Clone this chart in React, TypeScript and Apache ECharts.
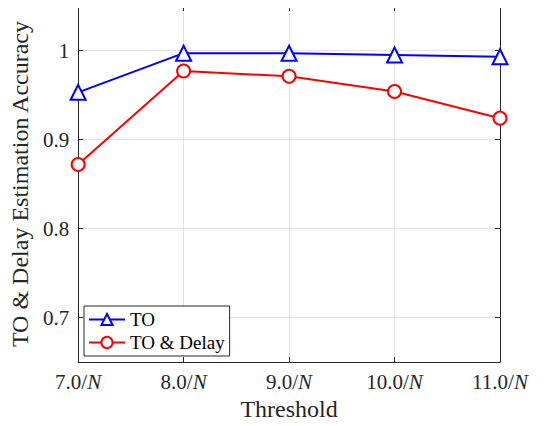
import React, { useEffect, useRef } from "react";
import * as echarts from "echarts";

const thresholds = [7, 8, 9, 10, 11];
const toValues = [0.953, 0.997, 0.997, 0.995, 0.993];
const toDelayValues = [0.872, 0.977, 0.971, 0.954, 0.924];
const yTicks = [0.7, 0.8, 0.9, 1];
const seriesNames = ["TO", "TO & Delay"];

const FONT = "Liberation Serif, DejaVu Serif, serif";

export default function App() {
  const ref = useRef<HTMLDivElement>(null);
  useEffect(() => {
    if (!ref.current) return;
    const chart = echarts.init(ref.current, undefined, { renderer: "svg" });
    const axisColor = "#262626";
    const xLabel = (v: number) => `{n|${v.toFixed(1)}/}{i|N}`;
    chart.setOption({
      animation: false,
      textStyle: { fontFamily: FONT },
      grid: { left: 75, right: 49, top: 6, bottom: 60, containLabel: false },
      legend: {
        left: 84,
        top: 306,
        orient: "vertical",
        backgroundColor: "#fff",
        borderColor: axisColor,
        borderWidth: 1,
        borderRadius: 0,
        padding: [4, 5, 4, 4],
        itemGap: 4,
        itemWidth: 36,
        itemHeight: 14,
        textStyle: { fontFamily: FONT, fontSize: 19, color: "#000" },
        data: seriesNames,
      },
      xAxis: [
        {
          type: "value",
          min: 7,
          max: 11,
          interval: 1,
          name: "Threshold",
          nameLocation: "middle",
          nameGap: 34,
          nameTextStyle: { fontFamily: FONT, fontSize: 24, color: "#262626" },
          axisLine: { lineStyle: { color: axisColor, width: 1 } },
          axisTick: { inside: true, length: 5, lineStyle: { color: axisColor } },
          axisLabel: {
            formatter: xLabel,
            margin: 9,
            fontFamily: FONT,
            rich: {
              n: { fontFamily: FONT, fontSize: 21, color: "#262626" },
              i: { fontFamily: FONT, fontSize: 21, fontStyle: "italic", color: "#262626" },
            },
          },
          splitLine: { show: true, lineStyle: { color: "#e3e3e3", width: 1 } },
        },
        {
          type: "value",
          position: "top",
          min: 7,
          max: 11,
          interval: 1,
          axisLine: { show: true, lineStyle: { color: axisColor, width: 1 } },
          axisTick: { inside: true, length: 5, lineStyle: { color: axisColor } },
          axisLabel: { show: false },
          splitLine: { show: false },
        },
      ],
      yAxis: [
        {
          type: "value",
          min: 0.65,
          max: 1.05,
          name: "TO & Delay Estimation Accuracy",
          nameLocation: "middle",
          nameGap: 31,
          nameTextStyle: { fontFamily: FONT, fontSize: 24, color: "#262626" },
          axisLine: { show: true, lineStyle: { color: axisColor, width: 1 } },
          axisTick: { inside: true, length: 5, lineStyle: { color: axisColor }, customValues: yTicks },
          axisLabel: {
            margin: 9,
            fontFamily: FONT,
            fontSize: 21,
            color: "#262626",
            customValues: yTicks,
            formatter: (v: number) => (Math.abs(v - 1) < 1e-9 ? "1" : v.toFixed(1)),
          },
          splitLine: { show: false },
        },
        {
          type: "value",
          position: "right",
          min: 0.65,
          max: 1.05,
          axisLine: { show: true, lineStyle: { color: axisColor, width: 1 } },
          axisTick: { inside: true, length: 5, lineStyle: { color: axisColor }, customValues: yTicks },
          axisLabel: { show: false },
          splitLine: { show: false },
        },
      ],
      series: [
        {
          name: seriesNames[0],
          type: "line",
          data: thresholds.map((t, i) => [t, toValues[i]]),
          symbol: "triangle",
          symbolSize: 15,
          lineStyle: { color: "#0000ff", width: 2 },
          itemStyle: { color: "#fff", borderColor: "#0000ff", borderWidth: 2 },
          color: "#0000ff",
          z: 3,
        },
        {
          name: seriesNames[1],
          type: "line",
          data: thresholds.map((t, i) => [t, toDelayValues[i]]),
          symbol: "circle",
          symbolSize: 13,
          lineStyle: { color: "#ff0000", width: 2 },
          itemStyle: { color: "#fff", borderColor: "#ff0000", borderWidth: 2 },
          color: "#ff0000",
          z: 2,
          markLine: {
            silent: true,
            symbol: "none",
            label: { show: false },
            lineStyle: { color: "#e3e3e3", width: 1, type: "solid" },
            data: yTicks.map((v) => ({ yAxis: v })),
            z: 0,
          },
        },
      ],
    });
    return () => chart.dispose();
  }, []);
  return <div ref={ref} style={{ width: 549, height: 426, margin: -8 }} />;
}
